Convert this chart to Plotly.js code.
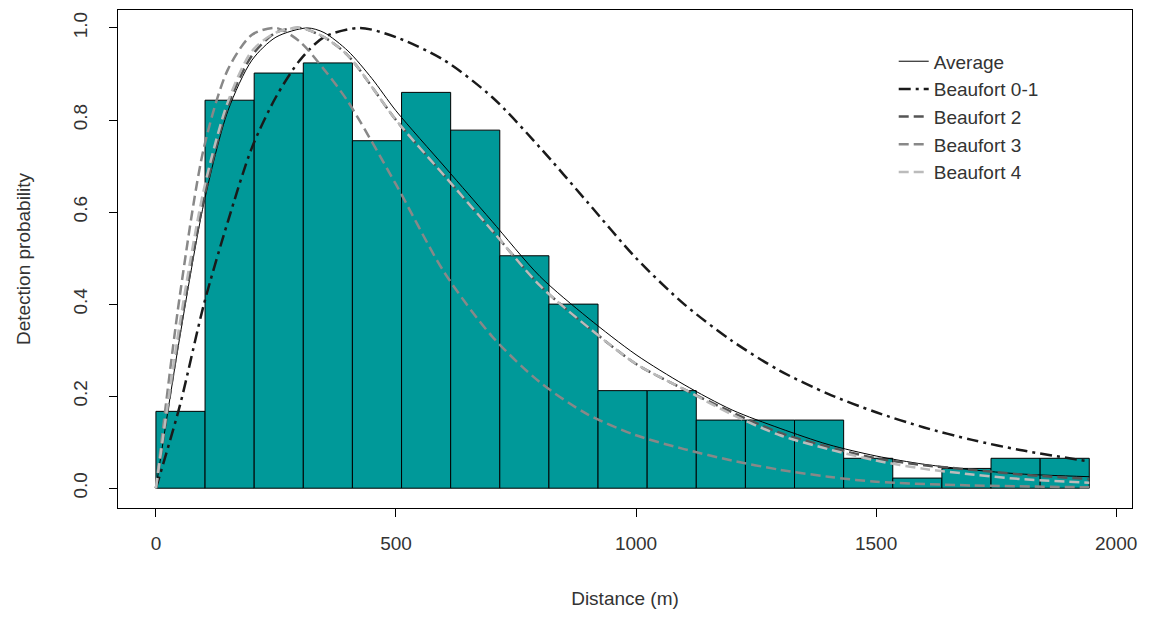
<!DOCTYPE html>
<html>
<head>
<meta charset="utf-8">
<script src="https://cdn.plot.ly/plotly-3.0.1.min.js"></script>
<style>body{margin:0;background:#fff}#plot{width:1149px;height:619px}</style>
</head>
<body>
<div id="plot"></div>
<script>
// histogram of scaled detections, 19 bins over 0-1944 m
var binWidth = 1944 / 19;
var barHeights = [0.167, 0.843, 0.902, 0.924, 0.755, 0.860, 0.778, 0.505, 0.400, 0.212,
                  0.212, 0.148, 0.148, 0.148, 0.065, 0.022, 0.043, 0.065, 0.065];
var barCenters = barHeights.map(function (h, i) { return (i + 0.5) * binWidth; });

// fitted detection functions
var distAvg = [0, 50, 100, 150, 200, 250, 315, 350, 400, 450, 500, 600, 650, 700, 800, 900, 1000, 1100, 1200, 1300, 1400, 1500, 1600, 1700, 1800, 1944];
var pAvg    = [0, 0.33, 0.62, 0.82, 0.93, 0.98, 1.0, 0.99, 0.95, 0.89, 0.82, 0.70, 0.64, 0.58, 0.46, 0.37, 0.29, 0.225, 0.17, 0.13, 0.095, 0.07, 0.052, 0.04, 0.031, 0.025];

var distB01 = [0, 50, 100, 150, 200, 250, 300, 350, 425, 500, 600, 700, 800, 900, 1000, 1100, 1200, 1300, 1400, 1500, 1600, 1700, 1800, 1944];
var pB01    = [0, 0.18, 0.40, 0.58, 0.74, 0.85, 0.93, 0.98, 1.0, 0.98, 0.93, 0.85, 0.74, 0.62, 0.50, 0.40, 0.32, 0.255, 0.205, 0.165, 0.132, 0.105, 0.083, 0.058];

var distB2 = [0, 50, 100, 150, 200, 250, 300, 350, 400, 500, 600, 700, 800, 900, 1000, 1100, 1200, 1300, 1400, 1500, 1600, 1700, 1800, 1944];
var pB2    = [0, 0.34, 0.63, 0.83, 0.94, 0.99, 1.0, 0.98, 0.94, 0.80, 0.68, 0.56, 0.44, 0.35, 0.27, 0.215, 0.165, 0.12, 0.09, 0.065, 0.05, 0.04, 0.03, 0.02];

var distB3 = [0, 50, 100, 150, 200, 250, 300, 350, 400, 500, 600, 700, 800, 900, 1000, 1100, 1200, 1300, 1400, 1500, 1700, 1944];
var pB3    = [0, 0.42, 0.74, 0.91, 0.985, 1.0, 0.97, 0.91, 0.84, 0.66, 0.47, 0.33, 0.23, 0.16, 0.115, 0.085, 0.06, 0.04, 0.025, 0.014, 0.006, 0.002];

var distB4 = [0, 50, 100, 150, 200, 250, 300, 350, 400, 500, 600, 700, 800, 900, 1000, 1100, 1200, 1300, 1400, 1500, 1600, 1700, 1800, 1944];
var pB4    = [0, 0.36, 0.65, 0.84, 0.95, 0.99, 1.0, 0.98, 0.94, 0.80, 0.68, 0.56, 0.44, 0.35, 0.27, 0.215, 0.16, 0.115, 0.085, 0.06, 0.042, 0.03, 0.02, 0.012];

var font = {family: 'Liberation Sans, Arial, sans-serif', size: 19, color: '#333'};

function curve(x, y, name, color, dash, width) {
    return {
        x: x, y: y, name: name, type: 'scatter', mode: 'lines',
        line: {color: color, dash: dash, width: width, shape: 'spline', smoothing: 0.8}
    };
}

var bars = {
    x: barCenters, y: barHeights, type: 'bar', width: binWidth,
    marker: {color: '#009999', line: {color: '#000', width: 1}},
    showlegend: false, hoverinfo: 'skip'
};

var data = [
    bars,
    curve(distAvg, pAvg, 'Average', '#000', 'solid', 1),
    curve(distB01, pB01, 'Beaufort 0-1', '#1a1a1a', '12px,5px,3px,5px', 2.5),
    curve(distB2, pB2, 'Beaufort 2', '#555555', '10px,5px', 2.5),
    curve(distB3, pB3, 'Beaufort 3', '#888888', '10px,5px', 2.5),
    curve(distB4, pB4, 'Beaufort 4', '#bbbbbb', '10px,5px', 2.5)
];

var layout = {
    width: 1149, height: 619,
    margin: {l: 118, r: 17, t: 10, b: 111},
    paper_bgcolor: '#fff', plot_bgcolor: '#fff',
    font: font,
    bargap: 0,
    xaxis: {
        range: [-79, 2033], tickvals: [0, 500, 1000, 1500, 2000],
        showgrid: false, zeroline: false, showline: true, mirror: true,
        linecolor: '#000', linewidth: 1, ticks: 'outside', ticklen: 8, tickcolor: '#000',
        ticklabelstandoff: 10,
        title: {text: 'Distance (m)', font: font, standoff: 38}
    },
    yaxis: {
        range: [-0.043, 1.039], tickvals: [0, 0.2, 0.4, 0.6, 0.8, 1.0], tickformat: '.1f',
        tickangle: -90,
        showgrid: false, zeroline: false, showline: true, mirror: true,
        linecolor: '#000', linewidth: 1, ticks: 'outside', ticklen: 8, tickcolor: '#000',
        ticklabelstandoff: 14,
        title: {text: 'Detection probability', font: font, standoff: 34}
    },
    legend: {
        x: 0.765, y: 0.935, xanchor: 'left', yanchor: 'top',
        bgcolor: 'rgba(0,0,0,0)', font: font, tracegroupgap: 0, itemwidth: 30
    }
};

Plotly.newPlot('plot', data, layout, {displayModeBar: false, staticPlot: true});
</script>
</body>
</html>
